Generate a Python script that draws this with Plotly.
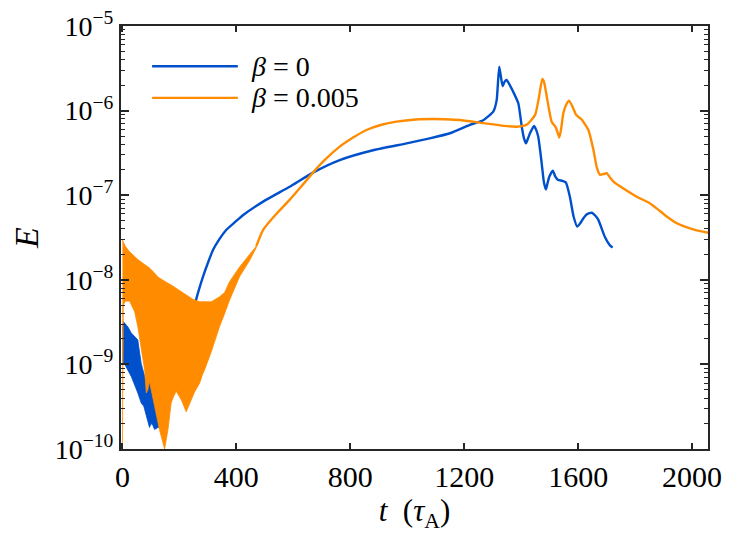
import plotly.graph_objects as go

# ---------------- data ----------------
# beta = 0 : early oscillating band (upper / lower envelopes)
blue_band_t = [0, 3, 7, 20, 31, 54, 60, 66, 75, 84, 95, 101, 107, 113, 119, 125, 130, 133]
blue_band_upper = [2.5e-9, 3.2e-9, 3.1e-9, 2.75e-9, 2.35e-9, 1.95e-9, 1.4e-9, 1.02e-9, 7.9e-10, 6.0e-10,
                   6.3e-10, 7.1e-10, 7.2e-10, 6.3e-10, 5.0e-10, 3.2e-10, 2.0e-10, 1.8e-10]
blue_band_lower = [1.0e-9, 1.0e-9, 1.02e-9, 8.5e-10, 7.2e-10, 4.6e-10, 4.0e-10, 3.5e-10, 3.2e-10, 2.5e-10,
                   1.8e-10, 2.0e-10, 1.9e-10, 1.7e-10, 1.75e-10, 1.8e-10, 1.8e-10, 1.75e-10]

# beta = 0 : smooth part
blue_t = [133, 160, 190, 220, 245, 257, 270, 283, 300, 318, 340, 365, 395, 423, 494, 587, 669, 763, 880, 998,
          1079, 1150, 1220, 1267, 1302, 1314, 1318, 1323, 1329, 1335, 1342, 1349, 1360, 1372, 1390, 1402,
          1410, 1417, 1424, 1431, 1445, 1452, 1460, 1472, 1480, 1487, 1493, 1499, 1511, 1520, 1530, 1545,
          1557, 1571, 1584, 1597, 1608, 1618, 1632, 1648, 1660, 1671, 1694, 1710, 1721]
blue_E = [1.8e-10, 4.0e-10, 7.9e-10, 1.6e-9, 3.5e-9, 5.5e-9, 7.9e-9, 1.09e-8, 1.58e-8, 2.25e-8, 3.0e-8, 3.9e-8,
          4.8e-8, 5.8e-8, 8.4e-8, 1.26e-7, 1.85e-7, 2.6e-7, 3.4e-7, 4.1e-7, 4.7e-7, 5.4e-7, 6.8e-7, 7.7e-7,
          9.7e-7, 1.33e-6, 2.0e-6, 3.3e-6, 2.5e-6, 1.95e-6, 2.2e-6, 2.3e-6, 2.0e-6, 1.67e-6, 1.22e-6, 6.5e-7,
          4.7e-7, 4.1e-7, 4.7e-7, 5.4e-7, 6.6e-7, 6.0e-7, 4.9e-7, 2.4e-7, 1.41e-7, 1.17e-7, 1.41e-7, 1.66e-7,
          1.95e-7, 1.66e-7, 1.51e-7, 1.48e-7, 1.41e-7, 9.6e-8, 5.6e-8, 4.25e-8, 4.7e-8, 5.3e-8, 6.0e-8,
          6.2e-8, 5.75e-8, 5.1e-8, 3.2e-8, 2.6e-8, 2.4e-8]

# beta = 0.005 : early oscillating band (upper / lower envelopes)
orange_band_t = [0, 3, 10, 25, 43, 54, 66, 78, 84, 89, 95, 113, 120, 130, 148, 160, 171, 180, 189, 207, 224,
                 247, 253, 271, 280, 290, 306, 312, 341, 359, 376, 390, 412, 447, 458, 470]
orange_band_upper = [2.95e-8, 2.8e-8, 2.5e-8, 2.15e-8, 1.87e-8, 1.74e-8, 1.62e-8, 1.51e-8, 1.46e-8, 1.43e-8,
                     1.38e-8, 1.2e-8, 1.12e-8, 1.05e-8, 9.5e-9, 9.1e-9, 8.7e-9, 8.3e-9, 7.9e-9, 7.2e-9, 6.6e-9,
                     5.9e-9, 5.8e-9, 5.5e-9, 5.5e-9, 5.5e-9, 5.5e-9, 5.5e-9, 6.3e-9, 7.1e-9, 9.5e-9, 1.12e-8,
                     1.43e-8, 2.0e-8, 2.25e-8, 2.5e-8]
orange_band_lower = [1.0e-10, 5.0e-9, 5.6e-9, 5.6e-9, 4.2e-9, 2.8e-9, 1.6e-9, 8.6e-10, 4.6e-10, 5.0e-10,
                     6.3e-10, 3.2e-10, 2.5e-10, 1.7e-10, 1.0e-10, 1.7e-10, 3.5e-10, 4.2e-10, 4.8e-10, 3.8e-10,
                     2.75e-10, 4.2e-10, 4.7e-10, 6.0e-10, 7.4e-10, 8.9e-10, 1.23e-9, 1.41e-9, 2.8e-9, 4.0e-9,
                     5.75e-9, 7.4e-9, 1.1e-8, 1.7e-8, 2.0e-8, 2.4e-8]

# beta = 0.005 : smooth part
orange_t = [470, 494, 540, 587, 630, 669, 715, 763, 810, 857, 910, 962, 1030, 1091, 1150, 1185, 1267, 1340,
            1384, 1419, 1449, 1462, 1474, 1480, 1490, 1507, 1522, 1534, 1541, 1548, 1558, 1568, 1580, 1593,
            1613, 1636, 1654, 1666, 1677, 1690, 1700, 1712, 1724, 1759, 1806, 1853, 1880, 1911, 1940, 1970,
            2010, 2056]
orange_E = [2.5e-8, 3.9e-8, 6.0e-8, 8.8e-8, 1.29e-7, 1.85e-7, 2.7e-7, 3.75e-7, 4.8e-7, 5.9e-7, 6.8e-7, 7.4e-7,
            7.85e-7, 7.95e-7, 7.85e-7, 7.75e-7, 7.1e-7, 6.6e-7, 6.45e-7, 6.8e-7, 8.9e-7, 1.41e-6, 2.37e-6,
            2.2e-6, 1.46e-6, 7.4e-7, 6.3e-7, 4.8e-7, 6.3e-7, 9.3e-7, 1.17e-6, 1.31e-6, 1.12e-6, 8.9e-7, 7.8e-7,
            5.9e-7, 3.4e-7, 2.1e-7, 1.74e-7, 1.78e-7, 1.82e-7, 1.62e-7, 1.45e-7, 1.2e-7, 9.6e-8, 8.0e-8, 6.8e-8,
            5.6e-8, 4.8e-8, 4.3e-8, 3.9e-8, 3.6e-8]

series_names = ["<i>β</i> = 0", "<i>β</i> = 0.005"]
series_colors = ["#0050CC", "#FF8C00"]

x_ticks = [0, 400, 800, 1200, 1600, 2000]
y_tick_exponents = [-10, -9, -8, -7, -6, -5]

# ---------------- figure ----------------
FONT = "Liberation Serif"
AX = "#262626"

fig = go.Figure()


def add_band(t, upper, lower, color):
    fig.add_trace(go.Scatter(
        x=list(t) + list(t)[::-1],
        y=list(upper) + list(lower)[::-1],
        mode="lines", fill="toself", fillcolor=color,
        line=dict(color=color, width=0.8),
        hoverinfo="skip", showlegend=False))


def add_line(t, e, color):
    fig.add_trace(go.Scatter(
        x=t, y=e, mode="lines",
        line=dict(color=color, width=2.4, shape="spline", smoothing=0.5),
        showlegend=False))


add_band(blue_band_t, blue_band_upper, blue_band_lower, series_colors[0])
add_line(blue_t, blue_E, series_colors[0])
add_band(orange_band_t, orange_band_upper, orange_band_lower, series_colors[1])
add_line(orange_t, orange_E, series_colors[1])

# legend drawn in paper coordinates (top-left inside the axes)
legend_rows_y = [0.905, 0.830]
for name, col, yy in zip(series_names, series_colors, legend_rows_y):
    fig.add_shape(type="line", xref="paper", yref="paper",
                  x0=0.053, x1=0.199, y0=yy, y1=yy,
                  line=dict(color=col, width=2.4))
    fig.add_annotation(xref="paper", yref="paper", x=0.218, y=yy,
                       xanchor="left", yanchor="middle", showarrow=False,
                       text=name, font=dict(family=FONT, size=28, color="black"))

minor_vals = [k * 10.0 ** d for d in range(-10, -5) for k in range(2, 10)]

fig.update_layout(
    width=731, height=550,
    margin=dict(l=113, r=31, t=18, b=109),
    paper_bgcolor="white", plot_bgcolor="white",
    font=dict(family=FONT, color="black"),
    xaxis=dict(
        range=[-5, 2056], automargin=False, ticklabeloverflow="allow",
        tickvals=x_ticks, ticktext=[str(v) for v in x_ticks],
        ticks="inside", ticklen=6, tickwidth=1.5, tickcolor=AX,
        showline=True, linewidth=2, linecolor=AX, mirror="ticks",
        showgrid=False, zeroline=False,
        tickfont=dict(family=FONT, size=30, color="black"),
        title=dict(text="<i>t</i>  (<i>τ</i><sub>A</sub>)", font=dict(family=FONT, size=31, color="black"),
                   standoff=6),
    ),
    yaxis=dict(
        type="log", range=[-10, -5], automargin=False, ticklabeloverflow="allow",
        tickvals=[10.0 ** e for e in y_tick_exponents],
        ticktext=["10<sup>−%d</sup>" % (-e) for e in y_tick_exponents],
        ticks="inside", ticklen=8, tickwidth=1.5, tickcolor=AX,
        minor=dict(tickvals=minor_vals, ticks="inside", ticklen=4, tickwidth=1.2, tickcolor=AX),
        showline=True, linewidth=2, linecolor=AX, mirror="ticks",
        showgrid=False, zeroline=False,
        tickfont=dict(family=FONT, size=28, color="black"),
        title=dict(text="<i>E</i>", font=dict(family=FONT, size=34, color="black"), standoff=16),
    ),
)

fig.write_html("out.html")
